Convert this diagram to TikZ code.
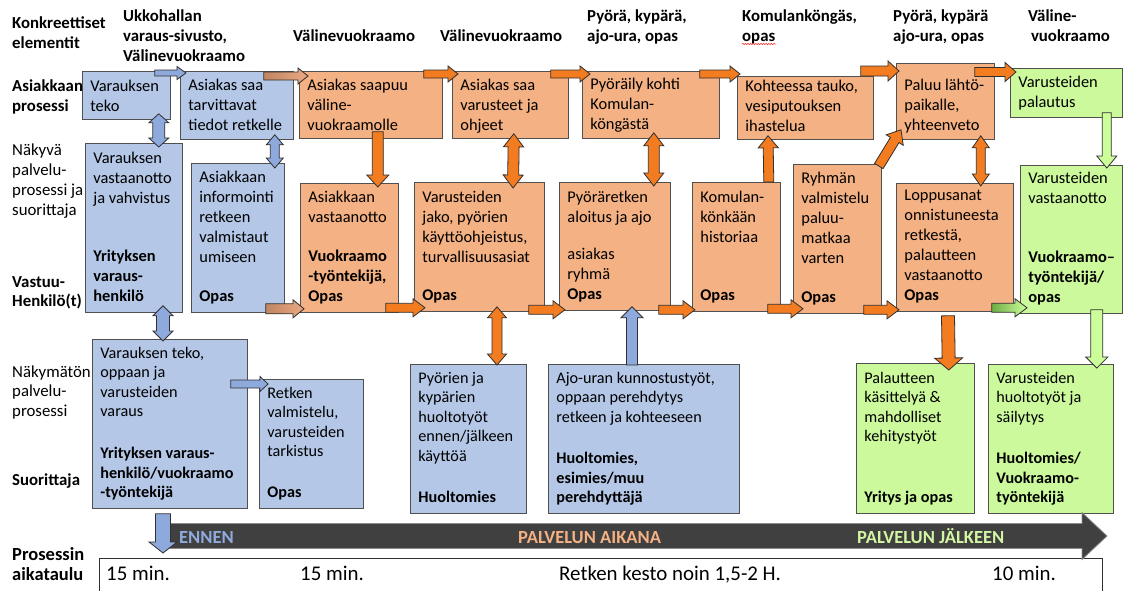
\documentclass[tikz,border=0pt]{standalone}
\usepackage{fontspec}
\setmainfont{Carlito}
\usetikzlibrary{calc,decorations.pathmorphing}

\definecolor{boxblue}{HTML}{B4C7E7}
\definecolor{boxorange}{HTML}{F4B183}
\definecolor{boxgreen}{HTML}{CCF99C}
\definecolor{boxline}{HTML}{505050}
\definecolor{arrblue}{HTML}{8EA9DB}
\definecolor{arrorange}{HTML}{F47C20}
\definecolor{arrgreen}{HTML}{CCFF99}
\definecolor{arrline}{HTML}{303030}
\definecolor{tlfill}{HTML}{404040}
\definecolor{tledge}{HTML}{8C8C8C}
\definecolor{lblblue}{HTML}{8FAADC}
\definecolor{lblorange}{HTML}{F4B183}
\definecolor{lblgreen}{HTML}{D4F5A2}
\definecolor{gradbrown}{HTML}{C08562}
\definecolor{gradtan}{HTML}{EBA982}
\definecolor{graddkgreen}{HTML}{6FAD47}

% cell text: width, height, first-baseline offset, top text
\newcommand\cellt[4]{\hbox to #1{\kern8pt\vbox to #2{\hsize=#1\parindent=0pt\parskip=0pt\rightskip=0pt plus 1fil\hyphenpenalty=10000\noindent\rule{0pt}{#3}#4\par\vfil}\hss}}
% cell text with a block pushed to the bottom edge
\newcommand\cell[5]{\hbox to #1{\kern8pt\vbox to #2{\hsize=#1\parindent=0pt\parskip=0pt\rightskip=0pt plus 1fil\hyphenpenalty=10000\noindent\rule{0pt}{#3}#4\par\vfil\noindent#5\rule[-11pt]{0pt}{11pt}\par\kern0pt}\hss}}
% stacked lines, baseline on the first line
\newcommand\lns[1]{\begin{tabular}[t]{@{}l@{}}#1\end{tabular}}

% block arrow: [style]{tail}{tip}{shaft half width}{head half width}{head length}
\newcommand\barrow[6][]{%
  \coordinate (baA) at #2; \coordinate (baB) at #3;
  \coordinate (baC) at ($(baB)!#6!(baA)$);
  \draw[#1] ($(baA)!#4!90:(baB)$) -- ($(baC)!#4!90:(baB)$) -- ($(baC)!#5!90:(baB)$) -- (baB)
    -- ($(baC)!#5!-90:(baB)$) -- ($(baC)!#4!-90:(baB)$) -- ($(baA)!#4!-90:(baB)$) -- cycle;}
% double-headed block arrow
\newcommand\dbarrow[6][]{%
  \coordinate (baA) at #2; \coordinate (baB) at #3;
  \coordinate (baC) at ($(baB)!#6!(baA)$);
  \coordinate (baD) at ($(baA)!#6!(baB)$);
  \draw[#1] (baA) -- ($(baD)!#5!90:(baB)$) -- ($(baD)!#4!90:(baB)$) -- ($(baC)!#4!90:(baB)$)
    -- ($(baC)!#5!90:(baB)$) -- (baB) -- ($(baC)!#5!-90:(baB)$) -- ($(baC)!#4!-90:(baB)$)
    -- ($(baD)!#4!-90:(baB)$) -- ($(baD)!#5!-90:(baB)$) -- cycle;}

\tikzset{
  cellbase/.style={draw=boxline, line width=0.8pt, inner sep=0pt, anchor=north west,
    font=\fontsize{16.4}{20}\selectfont},
  blue cell/.style={cellbase, fill=boxblue},
  orange cell/.style={cellbase, fill=boxorange},
  green cell/.style={cellbase, fill=boxgreen},
  deep/.style={font=\fontsize{16.2}{19.4}\selectfont},
  side label/.style={anchor=base west, inner sep=0pt, font=\fontsize{16.8}{20}\selectfont},
  side head/.style={anchor=base west, inner sep=0pt, font=\fontsize{16.8}{20}\selectfont\bfseries},
  phase/.style={anchor=base west, inner sep=0pt, font=\fontsize{18.5}{20}\selectfont\bfseries},
  time/.style={anchor=base west, inner sep=0pt, font=\fontsize{20.9}{24}\selectfont},
  arr/.style={draw=arrline, line width=0.8pt, line join=miter},
  barr/.style={arr, fill=arrblue},
  oarr/.style={arr, fill=arrorange},
  garr/.style={arr, fill=arrgreen},
  tl/.style={draw=tledge, line width=0.8pt, fill=tlfill},
}

\begin{document}
\begin{tikzpicture}[x=1pt, y=-1pt]
\useasboundingbox (0,0) rectangle (1128,590);
\clip (0,0) rectangle (1128,590);
\fill[white] (0,0) rectangle (1128,590);

% ---- row labels ----
\node[side head] (lab-konk) at (12,28) {\lns{Konkreettiset\\elementit}};
\node[side head] (lab-asp) at (12,91) {\lns{Asiakkaan\\prosessi}};
\node[side label] (lab-nak) at (12,155) {\lns{Näkyvä\\palvelu-\\prosessi ja\\suorittaja}};
\node[side head, font=\fontsize{16.8}{19.3}\selectfont\bfseries] (lab-vas) at (12,287) {\lns{Vastuu-\\Henkilö(t)}};
\node[side label, font=\fontsize{16.8}{19.5}\selectfont] (lab-nkm) at (12,377) {\lns{Näkymätön\\palvelu-\\prosessi}};
\node[side head] (lab-suo) at (12,485) {Suorittaja};
\node[side head, font=\fontsize{18.5}{20}\selectfont\bfseries] (lab-aik) at (12,560) {\lns{Prosessin\\aikataulu}};

% ---- physical evidence ----
\node[side head] (hd1) at (123,21) {\lns{Ukkohallan\\varaus-sivusto,\\Välinevuokraamo}};
\node[side head] (hd2) at (293,41) {Välinevuokraamo};
\node[side head] (hd3) at (440,41) {Välinevuokraamo};
\node[side head] (hd4) at (587,21) {\lns{Pyörä, kypärä,\\ajo-ura, opas}};
\node[side head] (hd5) at (742,21) {\lns{Komulanköngäs,\\opas}};
\node[side head] (hd6) at (893,21) {\lns{Pyörä, kypärä\\ajo-ura, opas}};
\node[side head] (hd7) at (1028,21) {\lns{Väline-\\\,vuokraamo}};
\draw[red!85!white, line width=0.5pt, decorate, decoration={snake, amplitude=0.7pt, segment length=2.6pt}]
  (742,44) -- (776,44);

% ---- customer process ----
\node[blue cell] (b1) at (82,71) {\cellt{88pt}{48pt}{20pt}{Varauksen\\teko}};
\node[blue cell] (b2) at (180,71) {\cellt{113pt}{68pt}{19pt}{Asiakas saa\\tarvittavat\\tiedot retkelle}};
\node[orange cell] (o1) at (299,71) {\cellt{143pt}{67pt}{19pt}{Asiakas saapuu\\väline-\\vuokraamolle}};
\node[orange cell] (o2) at (452,71) {\cellt{116pt}{67pt}{19pt}{Asiakas saa\\varusteet ja\\ohjeet}};
\node[orange cell] (o3) at (582,71) {\cellt{137pt}{67pt}{18pt}{Pyöräily kohti\\Komulan-\\köngästä}};
\node[orange cell] (o4) at (737,76) {\cellt{136pt}{63pt}{15pt}{Kohteessa tauko,\\vesiputouksen\\ihastelua}};
\node[orange cell] (o5) at (896,63) {\cellt{98pt}{76pt}{27pt}{Paluu lähtö-\\paikalle,\\yhteenveto}};
\node[green cell] (g1) at (1010,68) {\cellt{112pt}{49pt}{19pt}{Varusteiden\\palautus}};

% ---- visible service process ----
\node[blue cell] (v1) at (85,143) {\cell{97pt}{169pt}{20pt}{Varauksen\\vastaanotto\\ja vahvistus}{\textbf{Yrityksen\\varaus-\\henkilö}}};
\node[blue cell] (v2) at (191,163) {\cell{93pt}{149pt}{19pt}{Asiakkaan\\informointi\\retkeen\\valmistaut\\umiseen}{\textbf{Opas}}};
\node[orange cell] (ov1) at (300,183) {\cell{98pt}{129pt}{19pt}{Asiakkaan\\vastaanotto}{\textbf{Vuokraamo\\-työntekijä,\\Opas}}};
\node[orange cell] (ov2) at (414,182) {\cell{130pt}{129pt}{20pt}{Varusteiden\\jako, pyörien\\käyttöohjeistus,\\turvallisuusasiat}{\textbf{Opas}}};
\node[orange cell] (ov3) at (559,182) {\cell{111pt}{128pt}{20pt}{Pyöräretken\\aloitus ja ajo}{asiakas\\ryhmä\\\textbf{Opas}}};
\node[orange cell] (ov4) at (692,182) {\cell{88pt}{129pt}{20pt}{Komulan-\\könkään\\historiaa}{\textbf{Opas}}};
\node[orange cell] (ov5) at (793,164) {\cell{88pt}{149pt}{19pt}{Ryhmän\\valmistelu\\paluu-\\matkaa\\varten}{\textbf{Opas}}};
\node[orange cell] (ov6) at (896,183) {\cell{117pt}{128pt}{17pt}{Loppusanat\\onnistuneesta\\retkestä,\\palautteen\\vastaanotto}{\textbf{Opas}}};
\node[green cell] (gv1) at (1020,165) {\cell{102pt}{148pt}{18pt}{Varusteiden\\vastaanotto}{\textbf{Vuokraamo–\\työntekijä/\\opas}}};

% ---- invisible service process ----
\node[blue cell, deep] (n1) at (92,339) {\cell{155pt}{169pt}{19pt}{Varauksen teko,\\oppaan ja\\varusteiden\\varaus}{\textbf{Yrityksen varaus-\\henkilö/vuokraamo\\-työntekijä}}};
\node[blue cell, deep] (n2) at (259,379) {\cell{104pt}{129pt}{19pt}{Retken\\valmistelu,\\varusteiden\\tarkistus}{\textbf{Opas}}};
\node[blue cell, deep] (n3) at (410,364) {\cell{116pt}{149pt}{19pt}{Pyörien ja\\kypärien\\huoltotyöt\\ennen/jälkeen\\käyttöä}{\textbf{Huoltomies}}};
\node[blue cell, deep] (n4) at (548,364) {\cell{191pt}{149pt}{19pt}{Ajo-uran kunnostustyöt,\\oppaan perehdytys\\retkeen ja kohteeseen}{\textbf{Huoltomies,\\esimies/muu\\perehdyttäjä}}};
\node[green cell, deep] (g2) at (856,363) {\cell{118pt}{150pt}{20pt}{Palautteen\\käsittelyä \&\\mahdolliset\\kehitystyöt}{\textbf{Yritys ja opas}}};
\node[green cell, deep] (g3) at (988,364) {\cell{125pt}{149pt}{19pt}{Varusteiden\\huoltotyöt ja\\säilytys}{\textbf{Huoltomies/\\Vuokraamo-\\työntekijä}}};

% ---- flow along the customer process ----
\barrow[barr]{($(b1.north east)+(-16,2)$)}{($(b2.north west)+(6,2)$)}{3pt}{6.5pt}{9pt}
\barrow[arr, left color=gradbrown, right color=gradtan]{($(b2.north east)+(-30,5)$)}{($(o1.north west)+(9,5)$)}{4pt}{8pt}{10pt}
\barrow[oarr]{($(o1.north east)+(-19,3)$)}{($(o2.north west)+(6,3)$)}{4pt}{8pt}{10pt}
\barrow[oarr]{($(o2.north east)+(-18,3)$)}{($(o3.north west)+(8,3)$)}{4pt}{8pt}{10pt}
\barrow[oarr]{($(o3.north east)+(-20,3)$)}{($(o4.north west)+(3,-2)$)}{4pt}{8pt}{10pt}
\barrow[oarr]{($(o4.north east)+(-13,-5)$)}{($(o5.north west)+(3,8)$)}{5pt}{10pt}{11pt}
\barrow[oarr]{($(o5.north east)+(-20,9)$)}{($(g1.north west)+(6,4)$)}{4.5pt}{9.5pt}{11pt}

% ---- flow along the visible process ----
\barrow[arr, left color=gradbrown, right color=gradtan]{($(v2.south east)+(-19,-4)$)}{($(ov1.south west)+(4,-4)$)}{5pt}{9pt}{11pt}
\barrow[oarr]{($(ov1.south east)+(-13,-5)$)}{($(ov2.south west)+(11,-4)$)}{4.5pt}{9pt}{12pt}
\barrow[oarr]{($(ov2.south east)+(-16,-2)$)}{($(ov3.south west)+(6,-1)$)}{4.5pt}{9pt}{12pt}
\barrow[oarr]{($(ov3.south east)+(-12,-1)$)}{($(ov4.south west)+(3,-2)$)}{4.5pt}{9pt}{12pt}
\barrow[oarr]{($(ov4.south east)+(-13,-3)$)}{($(ov5.south west)+(10,-5)$)}{4.5pt}{9pt}{12pt}
\barrow[oarr]{($(ov5.south east)+(-18,-4)$)}{($(ov6.south west)+(3,-2)$)}{4.5pt}{9pt}{12pt}
\barrow[arr, left color=graddkgreen, right color=arrgreen]{($(ov6.south east)+(-22,-4)$)}{($(gv1.south west)+(7,-6)$)}{4.5pt}{9pt}{12pt}

% ---- links between the layers ----
\dbarrow[barr]{($(b1.south east)+(-12,-6)$)}{($(v1.north east)+(-24,4)$)}{6pt}{10pt}{9pt}
\dbarrow[barr]{($(b2.south east)+(-19,-5)$)}{($(v2.north east)+(-10,5)$)}{4.5pt}{8.5pt}{10pt}
\dbarrow[barr]{($(v1.south west)+(78,-7)$)}{($(n1.north west)+(71,2)$)}{6.5pt}{10pt}{10pt}
\barrow[oarr]{($(o1.south east)+(-65,-7)$)}{($(ov1.north east)+(-21,4)$)}{5.5pt}{11pt}{12pt}
\dbarrow[oarr]{($(o2.south east)+(-55,-5)$)}{($(ov2.north west)+(99,6)$)}{5.5pt}{10pt}{13pt}
\dbarrow[oarr]{($(o3.south east)+(-66,-6)$)}{($(ov3.north east)+(-17,4)$)}{5.5pt}{10pt}{13pt}
\barrow[oarr]{($(ov4.north east)+(-12,0)$)}{($(o4.south west)+(31,-4)$)}{5pt}{10pt}{12pt}
\barrow[oarr]{($(ov5.north east)+(-3,2)$)}{($(o5.south west)+(5,-10)$)}{5pt}{10pt}{12pt}
\dbarrow[oarr]{($(o5.south east)+(-14,-4)$)}{($(ov6.north east)+(-33,3)$)}{4.5pt}{8.5pt}{12pt}
\barrow[garr]{($(g1.south east)+(-16,-5)$)}{($(gv1.north east)+(-16,3)$)}{4.5pt}{10pt}{12pt}
\barrow[garr]{($(gv1.south east)+(-26,-4)$)}{($(g3.north east)+(-17,4)$)}{6pt}{11pt}{11pt}
\barrow[oarr]{($(ov6.south west)+(52,4)$)}{($(g2.north east)+(-26,7)$)}{6.5pt}{14pt}{12pt}
\dbarrow[oarr]{($(ov2.south west)+(83,-5)$)}{($(n3.north west)+(87,1)$)}{5pt}{9.5pt}{11pt}
\barrow[barr]{($(n4.north west)+(84,1)$)}{($(ov3.south west)+(73,-4)$)}{5.5pt}{11pt}{11pt}
\barrow[barr]{($(n1.north east)+(-17,45)$)}{($(n2.north west)+(9,5)$)}{4pt}{7.5pt}{8pt}

% ---- time line ----
\node[draw=arrline, line width=0.8pt, anchor=north west, minimum width=1003pt, minimum height=50pt, inner sep=0pt] (sched) at (99,558) {};
\coordinate (tlA) at (168,536);
\coordinate (tlB) at (1107,536);
\barrow[tl]{(tlA)}{(tlB)}{12.5pt}{23.5pt}{25pt}
\node[phase, text=lblblue] (ph1) at (179,543) {ENNEN};
\node[phase, text=lblorange] (ph2) at (518,543) {PALVELUN AIKANA};
\node[phase, text=lblgreen] (ph3) at (857,543) {PALVELUN JÄLKEEN};
\barrow[barr]{($(n1.south west)+(71,5)$)}{($(sched.north west)+(64,-5)$)}{7.5pt}{14pt}{11pt}

\node[time] (t1) at (106,580) {15 min.};
\node[time] (t2) at (300,580) {15 min.};
\node[time] (t3) at (559,580) {Retken kesto noin 1,5-2 H.};
\node[time] (t4) at (992,580) {10 min.};
\end{tikzpicture}
\end{document}
